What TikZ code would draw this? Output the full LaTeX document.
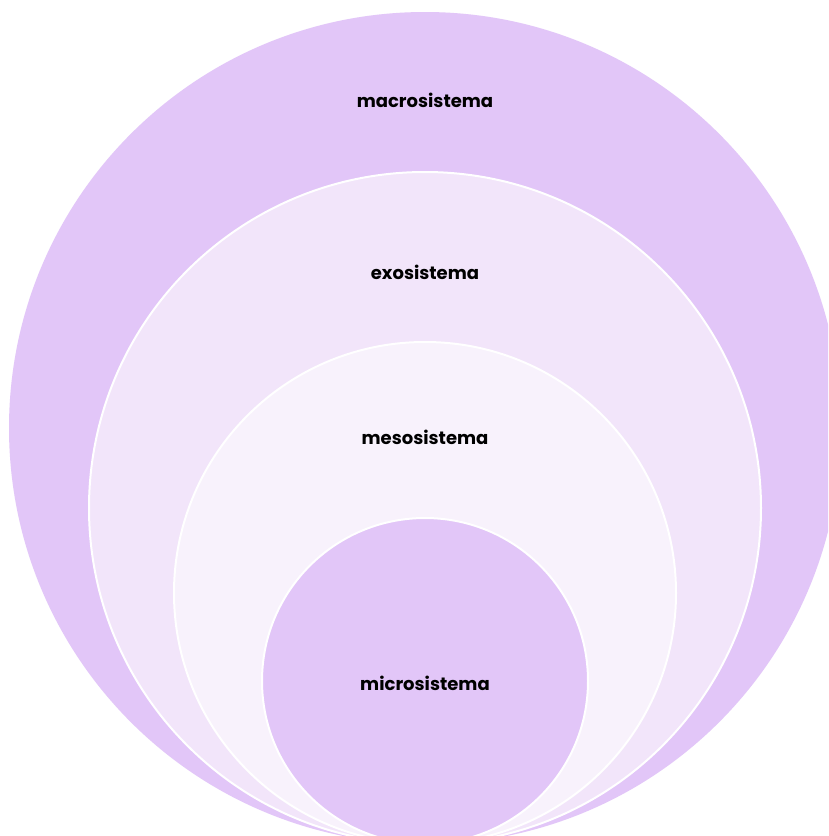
\documentclass[tikz,border=0pt]{standalone}
\usepackage{fontspec}
\setmainfont{Poppins}
\definecolor{outerc}{HTML}{E2C6F8}
\definecolor{exoc}{HTML}{F2E5FA}
\definecolor{mesoc}{HTML}{F8F2FC}
\definecolor{microc}{HTML}{E2C6F8}
\begin{document}
\begin{tikzpicture}[x=1pt,y=-1pt,
  ring/.style={draw=white,line width=2pt},
  lbl/.style={font=\bfseries\fontsize{18}{21}\selectfont,text=black}]
\useasboundingbox (0,0) rectangle (828,836);
\clip (0,0) rectangle (828,836);
\fill[white] (0,0) rectangle (828,836);
\path[fill=outerc] (425,428) circle[radius=416];
\path[ring,fill=exoc] (425,508) circle[radius=336];
\path[ring,fill=mesoc] (425,593) circle[radius=251];
\path[ring,fill=microc] (425,681) circle[radius=163];
\node[lbl] (macro) at (425,100) {macrosistema};
\node[lbl] (exo) at (425,272) {exosistema};
\node[lbl] (meso) at (425,437) {mesosistema};
\node[lbl] (micro) at (425,683) {microsistema};
\end{tikzpicture}
\end{document}
